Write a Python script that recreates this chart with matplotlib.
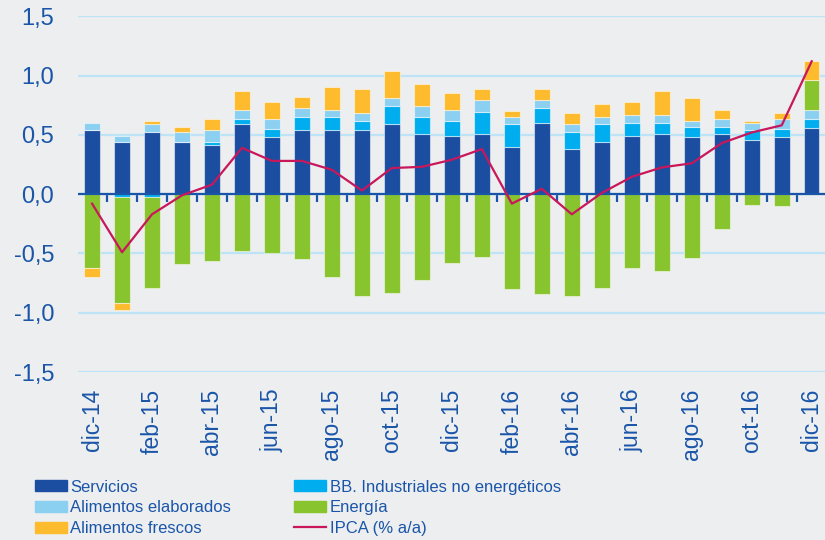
import numpy as np
import matplotlib
matplotlib.use("Agg")
import matplotlib.pyplot as plt
from matplotlib.patches import Patch
from matplotlib.lines import Line2D

meses = ["dic-14", "ene-15", "feb-15", "mar-15", "abr-15", "may-15", "jun-15",
         "jul-15", "ago-15", "sep-15", "oct-15", "nov-15", "dic-15", "ene-16",
         "feb-16", "mar-16", "abr-16", "may-16", "jun-16", "jul-16", "ago-16",
         "sep-16", "oct-16", "nov-16", "dic-16"]

servicios = [0.54, 0.44, 0.525, 0.44, 0.41, 0.59, 0.48, 0.54, 0.54, 0.54, 0.59, 0.51, 0.49,
             0.51, 0.40, 0.60, 0.38, 0.44, 0.49, 0.51, 0.48, 0.51, 0.46, 0.48, 0.56]
industriales = [0.0, -0.02, -0.02, 0.0, 0.03, 0.04, 0.07, 0.11, 0.11, 0.08, 0.15, 0.14, 0.13,
                0.18, 0.19, 0.13, 0.145, 0.15, 0.11, 0.09, 0.09, 0.06, 0.08, 0.07, 0.075]
elaborados = [0.06, 0.05, 0.065, 0.085, 0.10, 0.08, 0.08, 0.08, 0.06, 0.06, 0.07, 0.09, 0.09,
              0.10, 0.06, 0.06, 0.065, 0.06, 0.07, 0.07, 0.05, 0.065, 0.06, 0.085, 0.075]
energia = [-0.62, -0.90, -0.77, -0.59, -0.56, -0.48, -0.50, -0.545, -0.70, -0.86, -0.83, -0.72,
           -0.58, -0.53, -0.80, -0.84, -0.86, -0.795, -0.62, -0.65, -0.54, -0.29, -0.09, -0.10, 0.25]
frescos = [-0.08, -0.06, 0.03, 0.045, 0.09, 0.16, 0.15, 0.09, 0.19, 0.205, 0.23, 0.19, 0.14,
           0.095, 0.05, 0.095, 0.09, 0.11, 0.105, 0.20, 0.19, 0.075, 0.02, 0.045, 0.16]
ipca = [-0.08, -0.49, -0.17, -0.01, 0.08, 0.39, 0.28, 0.28, 0.205, 0.03, 0.22, 0.23, 0.29,
        0.38, -0.08, 0.045, -0.17, 0.01, 0.146, 0.225, 0.26, 0.43, 0.52, 0.58, 1.12]

series = [("Servicios", servicios, "#1b4ea0"),
          ("BB. Industriales no energéticos", industriales, "#00aeef"),
          ("Alimentos elaborados", elaborados, "#8bd0f0"),
          ("Energía", energia, "#88c42e"),
          ("Alimentos frescos", frescos, "#fdbb2d")]

fondo = "#eceef0"
azul = "#1a55a8"
plt.rcParams['font.family'] = ['Liberation Sans', 'DejaVu Sans']

fig = plt.figure(figsize=(8.25, 5.4), dpi=100, facecolor=fondo)
ax = fig.add_axes([0.0945, 0.311, 0.905, 0.659], facecolor=fondo)

x = np.arange(len(meses))
pos = np.zeros(len(meses))
neg = np.zeros(len(meses))
for nombre, vals, color in series:
    v = np.array(vals)
    bottom = np.where(v >= 0, pos, neg)
    ax.bar(x, v, bottom=bottom, width=0.52, color=color,
           edgecolor=(1, 1, 1, 0.5), linewidth=0.8, zorder=3)
    pos = pos + np.where(v >= 0, v, 0)
    neg = neg + np.where(v < 0, v, 0)

ax.axhline(0, color=azul, lw=1.6, zorder=3.5)
ax.plot(x, ipca, color="#c8175a", lw=1.6, zorder=4)

ax.set_ylim(-1.5, 1.5)
ax.set_xlim(-0.47, 24.43)
ax.set_yticks(np.arange(-1.5, 1.51, 0.5))
ax.set_yticklabels([f"{t:.1f}".replace(".", ",") for t in np.arange(-1.5, 1.51, 0.5)])
ax.yaxis.grid(True, color="#bde4f6", lw=1.6, zorder=0)
ax.set_axisbelow(True)

ax.set_xticks(x[::2])
ax.set_xticklabels(meses[::2], rotation=90, va="top", ha="center")
ax.tick_params(axis="x", length=0, pad=12, labelsize=16.5, labelcolor=azul)
ax.tick_params(axis="y", length=0, pad=17, labelsize=17, labelcolor=azul)
for s in ax.spines.values():
    s.set_visible(False)

# small ticks between the bars on the zero line
sec = ax.secondary_xaxis(0.5)
sec.set_alignment("bottom")
sec.set_xticks(np.arange(-0.5, len(meses), 1.0))
sec.tick_params(length=6, width=1.6, color=azul, labelbottom=False, labeltop=False)
for s in sec.spines.values():
    s.set_visible(False)

handles = [Patch(color=series[0][2]), Patch(color=series[2][2]), Patch(color=series[4][2]),
           Patch(color=series[1][2]), Patch(color=series[3][2]),
           Line2D([], [], color="#c8175a", lw=1.6)]
labels = ["Servicios", "Alimentos elaborados", "Alimentos frescos",
          "BB. Industriales no energéticos", "Energía", "IPCA (% a/a)"]
leg = fig.legend(handles, labels, ncol=2, loc="upper left", bbox_to_anchor=(0.042, 0.112),
                 frameon=False, fontsize=12, handlelength=1.95, handleheight=0.65,
                 handletextpad=0.2, labelspacing=0.35, columnspacing=3.75,
                 borderaxespad=0, borderpad=0)
for t in leg.get_texts():
    t.set_color(azul)

fig.savefig("out.png", dpi=100, facecolor=fondo)
